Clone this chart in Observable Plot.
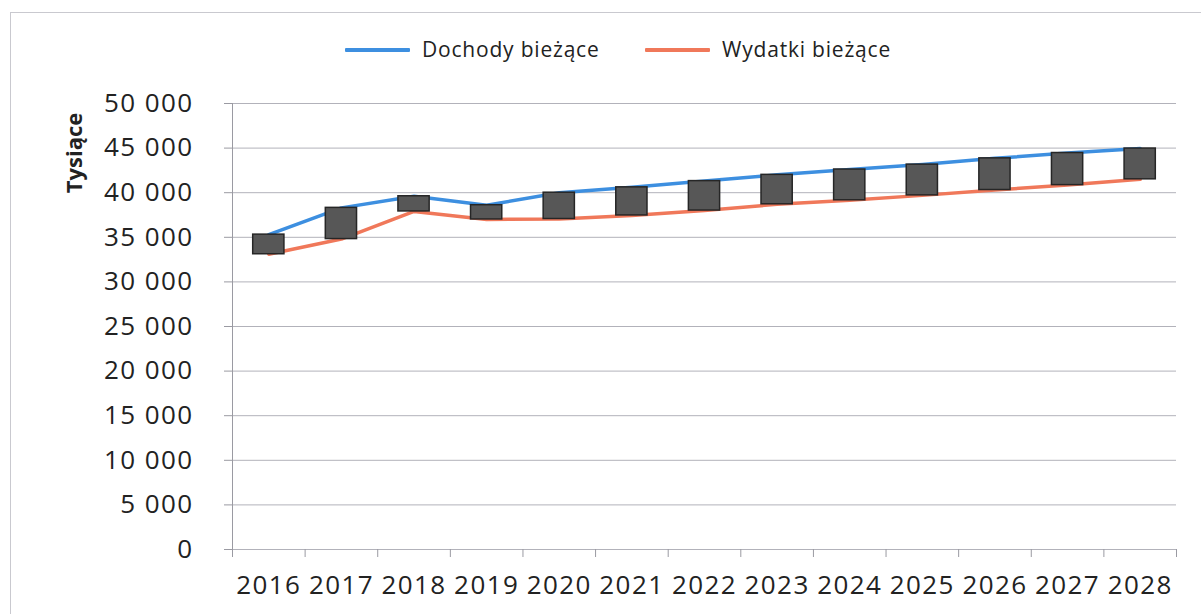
<!DOCTYPE html>
<html><head><meta charset="utf-8">
<script src="https://cdn.jsdelivr.net/npm/d3@7"></script>
<script src="https://cdn.jsdelivr.net/npm/@observablehq/plot@0.6"></script>
<style>
body{margin:0;background:#fff;font-family:"Open Sans",sans-serif;color:#222;}
#wrap{position:relative;width:1201px;height:614px;overflow:hidden;}
#frame{position:absolute;left:10px;top:12px;width:1300px;height:700px;border:1px solid #c9c9cf;}
.lg-line{position:absolute;height:4px;top:48px;width:65px;border-radius:1px;}
.lg-text{position:absolute;top:35px;font-size:21px;letter-spacing:0.8px;line-height:28px;white-space:nowrap;}
#ytitle{position:absolute;left:73px;top:153px;transform:translate(-50%,-50%) rotate(-90deg);font-weight:bold;font-size:22px;white-space:nowrap;}
#chart{position:absolute;left:0;top:80px;}
#chart svg text{letter-spacing:1.4px;}
</style></head>
<body>
<div id="wrap">
  <div id="frame"></div>
  <div class="lg-line" style="left:345px;background:#3d8fe0"></div>
  <div class="lg-text" style="left:422px">Dochody bieżące</div>
  <div class="lg-line" style="left:645px;background:#f0785a"></div>
  <div class="lg-text" style="left:722px">Wydatki bieżące</div>
  <div id="ytitle">Tysiące</div>
  <div id="chart"></div>
</div>
<script>
const years = [2016, 2017, 2018, 2019, 2020, 2021, 2022, 2023, 2024, 2025, 2026, 2027, 2028];
const dochody = [35300, 38300, 39600, 38600, 40000, 40600, 41300, 42000, 42600, 43150, 43850, 44450, 44950];
const wydatki = [33100, 34800, 37900, 37000, 37050, 37450, 38000, 38700, 39150, 39700, 40300, 40850, 41500];
const yTicks = [0, 5000, 10000, 15000, 20000, 25000, 30000, 35000, 40000, 45000, 50000];

const data = years.map((y, i) => ({year: y, dochody: dochody[i], wydatki: wydatki[i]}));
const bounds = years.map(y => y - 0.5).concat([years[years.length - 1] + 0.5]);
const fmt = d => d3.format(",")(d).replace(/,/g, " ");

const chart = Plot.plot({
  width: 1201, height: 534,
  marginLeft: 232, marginRight: 25, marginTop: 23, marginBottom: 65,
  style: {fontFamily: "Open Sans", color: "#222", background: "transparent"},
  x: {type: "linear", domain: [bounds[0], bounds[bounds.length - 1]]},
  y: {domain: [0, 50000]},
  marks: [
    Plot.gridY(yTicks, {stroke: "#b2b2ba", strokeOpacity: 1}),
    Plot.ruleX([bounds[0]], {stroke: "#9a9aa2"}),
    Plot.axisY(yTicks, {tickSize: 8, tickPadding: 31, fontSize: 26, tickFormat: fmt, label: null, stroke: "#9a9aa2"}),
    Plot.axisX(bounds, {tickSize: 8, tickFormat: () => "", label: null, stroke: "#9a9aa2"}),
    Plot.axisX(years, {tickSize: 0, tickPadding: 26, fontSize: 26, tickFormat: d => String(d), label: null}),
    Plot.lineY(data, {x: "year", y: "dochody", stroke: "#3d8fe0", strokeWidth: 3.5}),
    Plot.lineY(data, {x: "year", y: "wydatki", stroke: "#f0785a", strokeWidth: 3.5}),
    Plot.rectY(data, {x1: d => d.year - 0.215, x2: d => d.year + 0.215, y1: "wydatki", y2: "dochody", fill: "#575757", stroke: "#262626", strokeWidth: 1.5})
  ]
});
document.getElementById("chart").appendChild(chart);
</script>
</body></html>
